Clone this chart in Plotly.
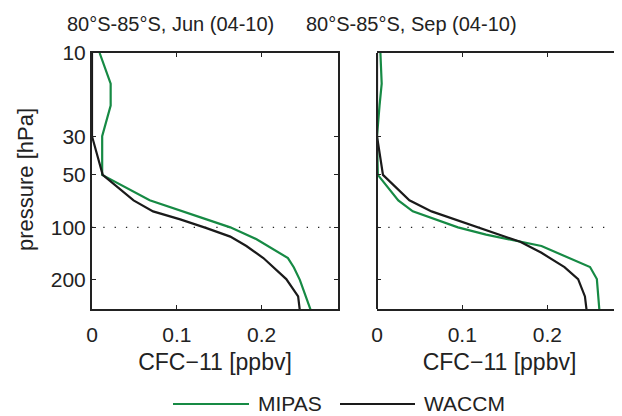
import math
import plotly.graph_objects as go

# ---------------- data ----------------
p_mipas_jun = [10, 15, 20, 30, 50, 70, 90, 100, 117, 134, 150, 170, 200, 300]
x_mipas_jun = [0.009, 0.022, 0.022, 0.012, 0.012, 0.068, 0.135, 0.163, 0.194, 0.214, 0.231, 0.238, 0.245, 0.258]

p_waccm_jun = [10, 20, 30, 50, 70, 81, 90, 101, 113, 128, 150, 198, 249, 300]
x_waccm_jun = [0, 0, 0, 0.0126, 0.049, 0.072, 0.104, 0.135, 0.163, 0.182, 0.202, 0.229, 0.243, 0.245]

p_mipas_sep = [10, 15, 20, 30, 50, 70, 81, 100, 110, 121, 128, 169, 198, 300]
x_mipas_sep = [0.004, 0.0055, 0.003, 0.0, 0.001, 0.025, 0.042, 0.095, 0.128, 0.168, 0.193, 0.25, 0.258, 0.261]

p_waccm_sep = [10, 20, 30, 50, 70, 81, 92, 108, 121, 140, 169, 198, 249, 300]
x_waccm_sep = [0, 0, 0, 0.007, 0.038, 0.064, 0.097, 0.136, 0.168, 0.193, 0.22, 0.236, 0.244, 0.246]

titles = ["80°S-85°S, Jun (04-10)", "80°S-85°S, Sep (04-10)"]
y_tickvals = [10, 30, 50, 100, 200]
y_ticktext = ["10", "30", "50", "100", "200"]
x_tickvals = [0, 0.1, 0.2]
x_ticktext = ["0", "0.1", "0.2"]
series_names = ["MIPAS", "WACCM"]
ref_pressure = 100

# ---------------- style ----------------
GREEN = "#168a44"
BLACK = "#1a1a1a"
AX = "#222222"
FONT = "Liberation Sans, Arial, sans-serif"

OFF = 8                      # page body margin offset
W, H = 622 - OFF, 416 - OFF  # figure size
SX0, SX1, SY0, SY1 = 92, 622, 53, 309
L, R, T, B = SX0 - OFF, 0, SY0 - OFF, H - (SY1 - OFF)
pw = W - L - R
ph = H - T - B

def px_x(px):
    return (px - SX0) / pw

def px_y(py):
    return (SY1 - py) / ph

fig = go.Figure()

panels = [
    ("x", "y", x_mipas_jun, p_mipas_jun, x_waccm_jun, p_waccm_jun),
    ("x2", "y2", x_mipas_sep, p_mipas_sep, x_waccm_sep, p_waccm_sep),
]
for xa, ya, xm, pm, xw, pwc in panels:
    fig.add_trace(go.Scatter(x=xm, y=pm, mode="lines", line=dict(color=GREEN, width=2.2),
                             xaxis=xa, yaxis=ya, showlegend=False, name=series_names[0]))
    fig.add_trace(go.Scatter(x=xw, y=pwc, mode="lines", line=dict(color=BLACK, width=2.2),
                             xaxis=xa, yaxis=ya, showlegend=False, name=series_names[1]))

yrange = [math.log10(294), 1]
common_x = dict(range=[0, 0.29], tickvals=x_tickvals, ticktext=x_ticktext,
                showgrid=False, zeroline=False, showline=True, linecolor=AX, linewidth=2,
                ticks="inside", ticklen=4, tickwidth=1, tickcolor=AX, ticklabelstandoff=6,
                tickfont=dict(family=FONT, size=21, color=AX),
                title=dict(text="CFC−11 [ppbv]", font=dict(family=FONT, size=23, color=AX), standoff=9))
common_y = dict(type="log", range=yrange, tickvals=y_tickvals, ticktext=y_ticktext,
                showgrid=False, zeroline=False, linecolor=AX, linewidth=2,
                ticks="inside", ticklen=4, tickwidth=1, tickcolor=AX,
                tickfont=dict(family=FONT, size=21, color=AX))

fig.update_layout(
    width=W, height=H,
    margin=dict(l=L, r=R, t=T, b=B, pad=0),
    paper_bgcolor="white", plot_bgcolor="white",
    showlegend=False,
    font=dict(family=FONT, color=AX),
    xaxis=dict(common_x, domain=[0, px_x(338)], anchor="y", mirror="ticks"),
    xaxis2=dict(common_x, domain=[px_x(377), 1], anchor="y2", mirror="ticks", range=[0, 0.2875]),
    yaxis=dict(common_y, domain=[0, 1], anchor="x", showline=True, mirror="ticks"),
    yaxis2=dict(common_y, domain=[0, 1], anchor="x2", showline=False, showticklabels=False),
)

shapes = []
shapes.append(dict(type="line", xref="x2 domain", yref="y2 domain", x0=0, x1=0, y0=0, y1=1,
                   line=dict(color=AX, width=2)))
for xr, yr in (("x domain", "y"), ("x2 domain", "y2")):
    shapes.append(dict(type="line", xref=xr, yref=yr, x0=0, x1=1, y0=ref_pressure, y1=ref_pressure,
                       line=dict(color=AX, width=1.3, dash="1.3px,10px"), layer="below"))

leg_y = px_y(404)
shapes.append(dict(type="line", xref="paper", yref="paper", x0=px_x(173), x1=px_x(249), y0=leg_y, y1=leg_y,
                   line=dict(color=GREEN, width=2.2)))
shapes.append(dict(type="line", xref="paper", yref="paper", x0=px_x(340), x1=px_x(415), y0=leg_y, y1=leg_y,
                   line=dict(color=BLACK, width=2.2)))
fig.update_layout(shapes=shapes)

annotations = [
    dict(text=titles[0], x=px_x(170), y=px_y(24), xref="paper", yref="paper", showarrow=False,
         xanchor="center", yanchor="middle", font=dict(family=FONT, size=20, color=AX)),
    dict(text=titles[1], x=px_x(411), y=px_y(24), xref="paper", yref="paper", showarrow=False,
         xanchor="center", yanchor="middle", font=dict(family=FONT, size=20, color=AX)),
    dict(text="pressure [hPa]", x=px_x(25), y=px_y(180), xref="paper", yref="paper", showarrow=False,
         textangle=-90, xanchor="center", yanchor="middle", font=dict(family=FONT, size=22, color=AX)),
    dict(text=series_names[0], x=px_x(256), y=px_y(403), xref="paper", yref="paper", showarrow=False,
         xanchor="left", yanchor="middle", font=dict(family=FONT, size=21, color=AX)),
    dict(text=series_names[1], x=px_x(422), y=px_y(403), xref="paper", yref="paper", showarrow=False,
         xanchor="left", yanchor="middle", font=dict(family=FONT, size=21, color=AX)),
]
fig.update_layout(annotations=annotations)

fig.write_html("out.html")
